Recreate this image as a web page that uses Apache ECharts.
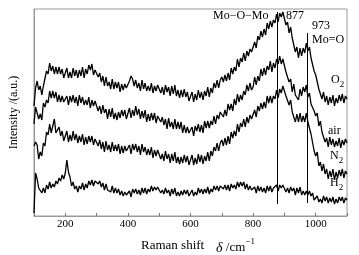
<!DOCTYPE html>
<html>
<head>
<meta charset="utf-8">
<script src="https://cdn.jsdelivr.net/npm/echarts@6/dist/echarts.min.js"></script>
<style>
  html, body { margin: 0; padding: 0; background: #fff; }
  #ramanChart { width: 359px; height: 255px; }
</style>
</head>
<body>
<div id="ramanChart"></div>
<script>
// Raman shift (cm-1), one point every 5 from 100 to 1100
var shiftStart = 100;
var shiftStep = 5;
var xTicks = [200, 400, 600, 800, 1000];
var peakLines = [877, 973];

// intensities (a.u.)
var o2 = [
  110, 128, 135, 126, 130, 121, 130, 129, 145, 142, 153, 145, 150, 142, 149, 142, 149, 142, 147, 138,
  140, 148, 138, 144, 138, 148, 140, 146, 138, 146, 140, 149, 138, 147, 142, 151, 146, 152, 141, 146,
  147, 139, 143, 134, 140, 130, 139, 130, 134, 127, 137, 127, 134, 128, 134, 124, 132, 126, 132, 128,
  127, 135, 140, 137, 130, 136, 128, 133, 125, 136, 127, 133, 125, 130, 125, 133, 123, 130, 125, 131,
  131, 123, 129, 121, 131, 124, 129, 120, 130, 122, 131, 120, 126, 118, 126, 119, 127, 119, 124, 115,
  116, 124, 114, 122, 116, 126, 118, 124, 116, 125, 120, 129, 119, 128, 123, 133, 128, 136, 128, 136,
  139, 134, 141, 135, 143, 136, 148, 142, 149, 145, 157, 149, 158, 154, 163, 155, 165, 160, 167, 164,
  165, 174, 168, 180, 176, 185, 179, 187, 181, 193, 187, 195, 189, 196, 193, 202, 194, 203, 199, 204,
  202, 191, 194, 183, 189, 178, 178, 164, 169, 158, 168, 160, 168, 163, 173, 165, 169, 158, 159, 145,
  141, 143, 127, 128, 117, 124, 114, 120, 111, 119, 113, 121, 110, 118, 113, 121, 115, 122, 113, 120,
  117
];
var air = [
  92, 109, 110, 97, 102, 96, 113, 109, 116, 113, 125, 118, 125, 118, 124, 114, 121, 114, 120, 114,
  113, 120, 111, 120, 114, 121, 113, 119, 110, 121, 113, 119, 111, 116, 111, 119, 108, 116, 110, 115,
  114, 105, 110, 102, 111, 103, 107, 97, 107, 99, 108, 97, 103, 96, 104, 98, 106, 100, 106, 97,
  99, 108, 98, 106, 100, 110, 101, 107, 97, 105, 98, 106, 94, 102, 95, 103, 96, 103, 93, 100,
  101, 94, 99, 91, 97, 87, 98, 89, 94, 87, 97, 87, 94, 87, 94, 83, 91, 83, 89, 83,
  82, 89, 80, 90, 85, 92, 84, 91, 83, 95, 88, 95, 88, 95, 91, 100, 92, 101, 97, 104,
  105, 99, 106, 100, 112, 106, 112, 105, 117, 111, 122, 114, 121, 116, 125, 121, 131, 125, 133, 126,
  129, 139, 131, 140, 135, 147, 140, 148, 141, 150, 146, 155, 144, 153, 148, 157, 152, 160, 152, 157,
  155, 144, 146, 134, 137, 124, 132, 121, 123, 116, 127, 120, 129, 124, 131, 119, 123, 112, 114, 105,
  100, 103, 90, 95, 84, 86, 74, 78, 69, 79, 71, 77, 69, 75, 70, 78, 68, 76, 71, 77,
  73
];
var n2 = [
  70, 74, 71, 57, 64, 60, 73, 70, 84, 81, 92, 83, 90, 97, 83, 82, 89, 80, 85, 75,
  77, 85, 74, 81, 75, 85, 76, 82, 73, 80, 74, 82, 71, 79, 72, 80, 74, 80, 71, 77,
  78, 70, 76, 67, 74, 64, 75, 66, 71, 64, 74, 65, 71, 65, 72, 62, 70, 63, 70, 65,
  64, 71, 62, 72, 66, 72, 64, 70, 61, 72, 64, 69, 61, 67, 61, 69, 58, 66, 60, 66,
  65, 57, 62, 55, 65, 57, 62, 53, 62, 55, 64, 53, 59, 52, 59, 53, 61, 54, 60, 51,
  53, 61, 51, 58, 52, 62, 54, 61, 52, 60, 55, 64, 55, 65, 60, 69, 65, 73, 65, 73,
  76, 70, 78, 71, 80, 72, 84, 78, 85, 80, 92, 84, 93, 89, 97, 89, 99, 93, 101, 97,
  98, 106, 99, 110, 105, 113, 107, 114, 108, 120, 113, 120, 113, 120, 117, 126, 118, 127, 123, 130,
  130, 120, 122, 111, 116, 104, 106, 94, 102, 94, 103, 94, 100, 94, 103, 94, 95, 82, 81, 65,
  60, 64, 50, 54, 45, 52, 42, 47, 37, 45, 39, 47, 36, 44, 38, 46, 40, 47, 38, 45,
  42
];
var h2 = [
  3, 43, 37, 28, 29, 23, 28, 23, 31, 27, 34, 28, 32, 29, 35, 32, 38, 35, 41, 37,
  43, 56, 44, 39, 30, 34, 27, 30, 24, 30, 27, 33, 26, 32, 28, 35, 31, 36, 30, 35,
  36, 32, 35, 29, 33, 26, 32, 26, 28, 24, 30, 23, 28, 23, 27, 21, 25, 20, 24, 21,
  20, 25, 19, 27, 23, 27, 22, 26, 21, 28, 23, 28, 22, 27, 24, 30, 25, 29, 26, 29,
  29, 23, 26, 22, 28, 23, 26, 20, 27, 22, 28, 20, 24, 20, 25, 21, 26, 22, 26, 20,
  21, 26, 20, 24, 21, 28, 23, 27, 22, 27, 23, 29, 22, 27, 24, 30, 26, 30, 25, 30,
  31, 27, 31, 26, 31, 25, 32, 28, 31, 27, 34, 29, 34, 30, 34, 27, 32, 26, 30, 26,
  25, 29, 23, 30, 25, 29, 24, 28, 23, 30, 25, 30, 24, 28, 26, 31, 25, 31, 28, 31,
  31, 24, 28, 23, 29, 25, 28, 21, 28, 23, 29, 21, 25, 21, 25, 21, 25, 20, 23, 16,
  16, 20, 14, 17, 13, 20, 15, 19, 13, 18, 14, 19, 12, 17, 13, 19, 15, 19, 13, 18,
  16
];

var serif = '"Liberation Serif", "DejaVu Serif", serif';

function toPairs(arr) {
  return arr.map(function (v, i) { return [shiftStart + i * shiftStep, v]; });
}

function traceSeries(name, arr) {
  return {
    name: name,
    type: 'line',
    data: toPairs(arr),
    showSymbol: false,
    silent: true,
    lineStyle: { color: '#000', width: 1.3 },
    z: 3
  };
}

var chartDom = document.getElementById('ramanChart');
var myChart = echarts.init(chartDom, null, { renderer: 'canvas', devicePixelRatio: 1 });

var series = [
  traceSeries('O2', o2),
  traceSeries('air', air),
  traceSeries('N2', n2),
  traceSeries('H2', h2)
];
// peak marker lines at 877 and 973
series[3].markLine = {
  silent: true,
  symbol: 'none',
  animation: false,
  label: { show: false },
  lineStyle: { color: '#000', width: 1, type: 'solid' },
  data: [
    [{ coord: [peakLines[0], 12] }, { coord: [peakLines[0], 204] }],
    [{ coord: [peakLines[1], 13] }, { coord: [peakLines[1], 183] }]
  ]
};

var sub = { fontSize: 9, fontFamily: serif, color: '#000', verticalAlign: 'bottom', padding: [0, 0, -3, 0] };
var txt = { fontSize: 12, fontFamily: serif, color: '#000' };

function label(x, y, text, size) {
  return {
    type: 'text',
    left: x,
    top: y,
    style: {
      text: text,
      font: (size || 12) + 'px ' + serif,
      fill: '#000',
      rich: { t: txt, s: sub }
    }
  };
}

var option = {
  animation: false,
  backgroundColor: '#fff',
  grid: {
    left: 32,
    right: 12,
    top: 9,
    bottom: 39,
    show: true,
    borderColor: '#999',
    borderWidth: 1,
    containLabel: false
  },
  xAxis: {
    type: 'value',
    min: 100,
    max: 1100,
    interval: 100,
    splitLine: { show: false },
    axisLine: { show: true, lineStyle: { color: '#999', width: 1 } },
    axisTick: { show: true, inside: true, length: 3, lineStyle: { color: '#777' } },
    axisLabel: {
      margin: 3,
      color: '#000',
      fontSize: 11,
      fontFamily: serif,
      formatter: function (v) { return xTicks.indexOf(v) >= 0 ? String(v) : ''; }
    }
  },
  yAxis: {
    type: 'value',
    min: 0,
    max: 207,
    name: 'Intensity /(a.u.)',
    nameLocation: 'middle',
    nameGap: 14,
    nameTextStyle: { color: '#000', fontSize: 12, fontFamily: serif },
    splitLine: { show: false },
    axisLine: { show: true, lineStyle: { color: '#999', width: 1 } },
    axisTick: { show: false },
    axisLabel: { show: false }
  },
  graphic: [
    label(213, 10, 'Mo−O−Mo'),
    label(286, 10, '877'),
    label(312, 20, '973'),
    label(312, 34, 'Mo=O'),
    label(331, 74, '{t|O}{s|2}'),
    label(328, 125, 'air'),
    label(330, 150, '{t|N}{s|2}'),
    label(330, 177, '{t|H}{s|2}'),
    label(141, 239, 'Raman shift', 13),
    {
      type: 'text',
      left: 216,
      top: 237,
      style: {
        text: '{i|δ} {t|/cm}{p|−1}',
        rich: {
          i: { fontSize: 14, fontStyle: 'italic', fontFamily: serif, color: '#000' },
          t: { fontSize: 13, fontFamily: serif, color: '#000' },
          p: { fontSize: 9, fontFamily: serif, color: '#000', verticalAlign: 'top', padding: [-4, 0, 0, 0] }
        }
      }
    }
  ],
  series: series
};

option && myChart.setOption(option);
</script>
</body>
</html>
